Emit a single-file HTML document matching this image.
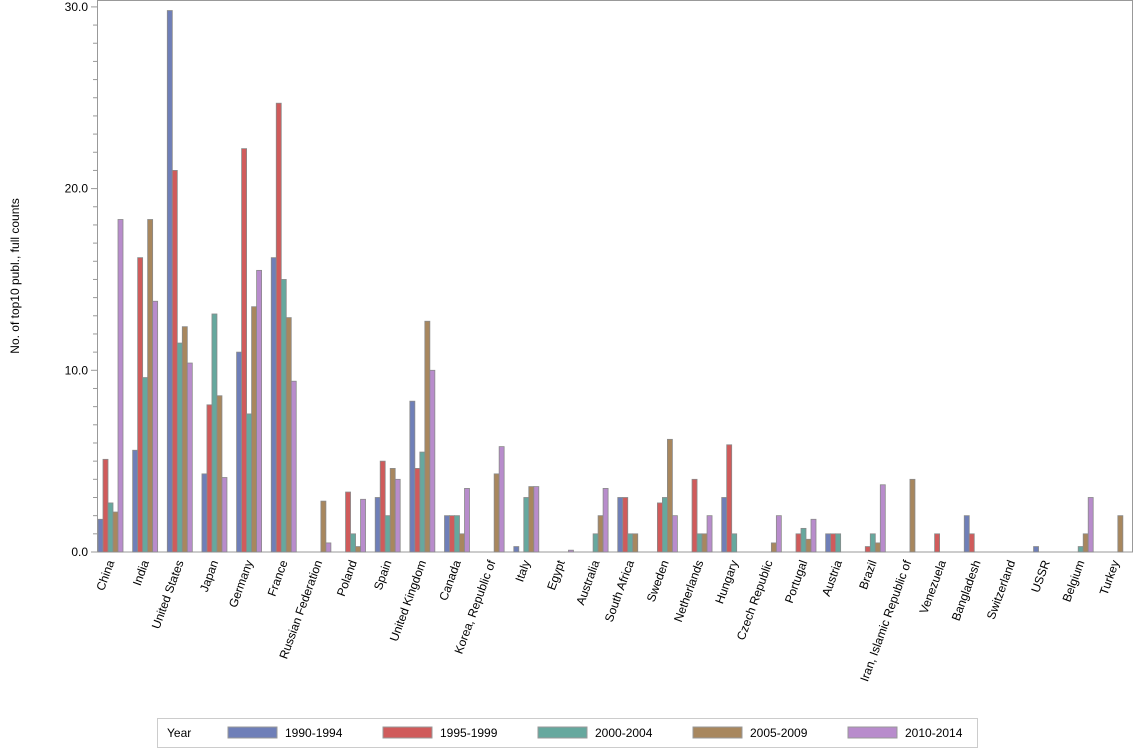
<!DOCTYPE html>
<html><head><meta charset="utf-8"><style>body{margin:0;background:#fff}svg{display:block}text{font-family:"Liberation Sans",sans-serif;font-size:12px;fill:#000}</style></head>
<body><svg id="s" width="1134" height="756" xmlns="http://www.w3.org/2000/svg"></svg>
<script>
const names=["China","India","United States","Japan","Germany","France","Russian Federation","Poland","Spain","United Kingdom","Canada","Korea, Republic of","Italy","Egypt","Australia","South Africa","Sweden","Netherlands","Hungary","Czech Republic","Portugal","Austria","Brazil","Iran, Islamic Republic of","Venezuela","Bangladesh","Switzerland","USSR","Belgium","Turkey"];
const d=[[1.8,5.1,2.7,2.2,18.3],[5.6,16.2,9.6,18.3,13.8],[29.8,21.0,11.5,12.4,10.4],[4.3,8.1,13.1,8.6,4.1],[11.0,22.2,7.6,13.5,15.5],[16.2,24.7,15.0,12.9,9.4],[0,0,0,2.8,0.5],[0,3.3,1.0,0.3,2.9],[3.0,5.0,2.0,4.6,4.0],[8.3,4.6,5.5,12.7,10.0],[2,2,2,1,3.5],[0,0,0,4.3,5.8],[0.3,0,3.0,3.6,3.6],[0,0,0,0,0.1],[0,0,1,2,3.5],[3,3,1,1,0],[0,2.7,3,6.2,2],[0,4,1,1,2],[3,5.9,1,0,0],[0,0,0,0.5,2],[0,1,1.3,0.7,1.8],[1,1,1,0,0],[0,0.3,1,0.5,3.7],[0,0,0,4,0],[0,1,0,0,0],[2,1,0,0,0],[0,0,0,0,0],[0.3,0,0,0,0],[0,0,0.3,1,3],[0,0,0,2,0]];
const col=["#6f7fb8","#d05b5b","#66a89e","#a8875e","#b88ccc"];
const y0=552,k=18.17,x0=97.5;
let h='<rect x="97.5" y="0.5" width="1035" height="551.5" fill="none" stroke="#999"/>';
for(let v=0;v<=30;v++){const y=y0-v*k;h+=`<line x1="${v%10?93:91}" x2="97.5" y1="${y}" y2="${y}" stroke="#999"/>`;if(v%10==0)h+=`<text x="88" y="${y+4}" text-anchor="end">${v}.0</text>`;}
h+=`<line x1="97.5" x2="97.5" y1="0" y2="552" stroke="#999"/><line x1="97.5" x2="1133" y1="552" y2="552" stroke="#999"/>`;
d.forEach((r,i)=>{const c=110.5+i*34.65;r.forEach((v,j)=>{if(v>0){const x=c-12.5+j*5;h+=`<rect x="${x}" y="${y0-v*k}" width="5" height="${v*k}" fill="${col[j]}" stroke="#8a8a8a" stroke-width="0.8"/>`;}});
h+=`<text transform="translate(${c+4},562) rotate(-70)" text-anchor="end">${names[i]}</text>`;});
h+=`<text transform="translate(19,276) rotate(-90)" text-anchor="middle">No. of top10 publ., full counts</text>`;
h+=`<rect x="157.5" y="718.5" width="820" height="29" fill="#fff" stroke="#ccc"/><text x="167" y="737">Year</text>`;
const L=["1990-1994","1995-1999","2000-2004","2005-2009","2010-2014"];
L.forEach((l,j)=>{const x=228+j*155;h+=`<rect x="${x}" y="727" width="49" height="11" fill="${col[j]}" stroke="#999"/><text x="${x+57}" y="737">${l}</text>`;});
document.getElementById('s').innerHTML=h;
</script></body></html>
